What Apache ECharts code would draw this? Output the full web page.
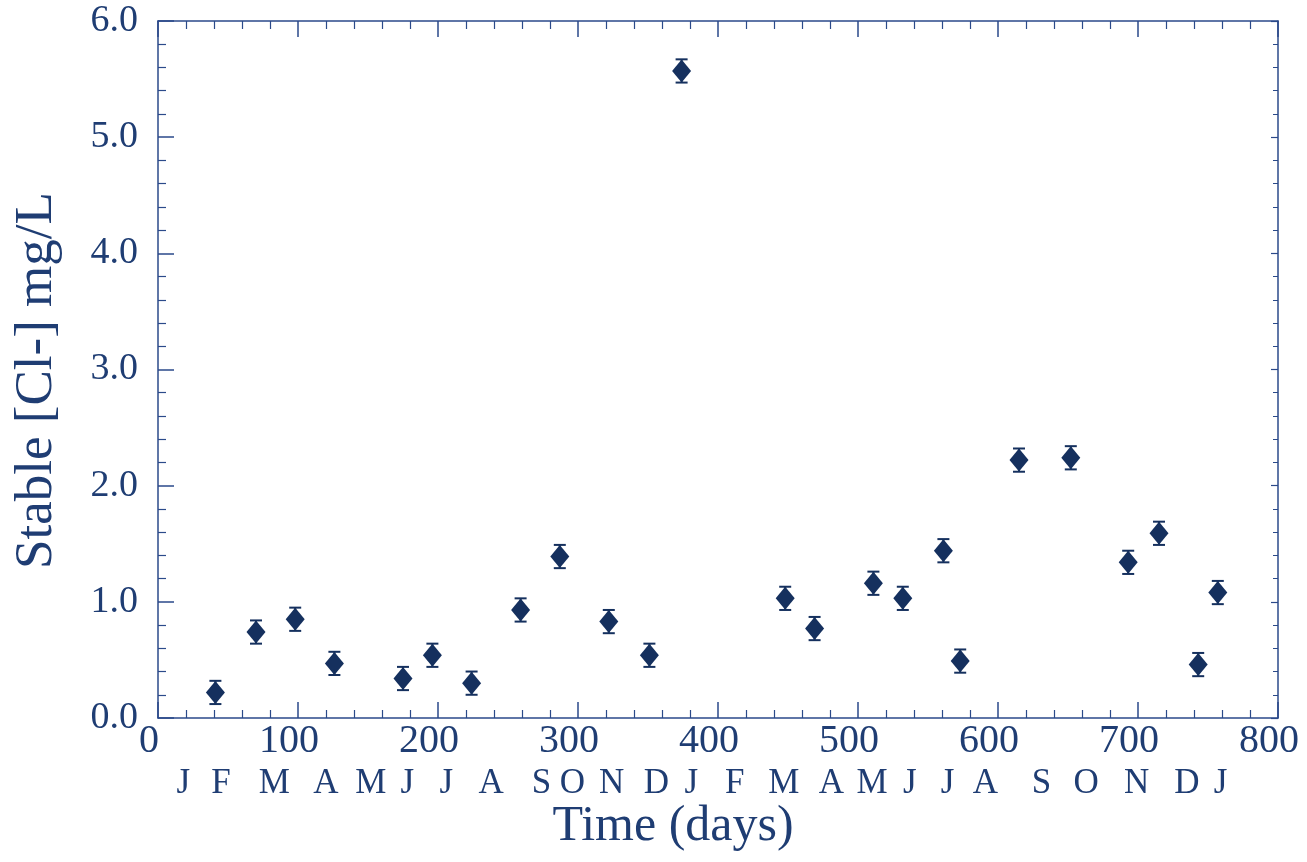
<!DOCTYPE html>
<html>
<head>
<meta charset="utf-8">
<script src="https://cdn.jsdelivr.net/npm/echarts@6/dist/echarts.min.js"></script>
<style>
html,body{margin:0;padding:0;background:#fff;}
#chart{width:1307px;height:862px;}
</style>
</head>
<body>
<div id="chart"></div>
<script>
// Data
const days = [41, 70, 98, 126, 175, 196, 224, 259, 287, 322, 351, 374, 448, 469, 511, 532, 561, 573, 615, 652, 693, 715, 743, 757];
const chloride = [0.22, 0.74, 0.85, 0.47, 0.34, 0.54, 0.30, 0.93, 1.39, 0.83, 0.54, 5.57, 1.03, 0.77, 1.16, 1.03, 1.44, 0.49, 2.22, 2.24, 1.34, 1.59, 0.46, 1.08];
const errors = [0.10, 0.10, 0.10, 0.10, 0.10, 0.10, 0.10, 0.10, 0.10, 0.10, 0.10, 0.10, 0.10, 0.10, 0.10, 0.10, 0.10, 0.10, 0.10, 0.10, 0.10, 0.10, 0.10, 0.10];
const monthLabels = ['J','F','M','A','M','J','J','A','S','O','N','D','J','F','M','A','M','J','J','A','S','O','N','D','J'];
const monthDays = [18, 45, 83, 120, 152, 178, 206, 238, 274, 296, 324, 356, 381, 412, 447, 481, 510, 537, 564, 591, 631, 663, 699, 735, 759];
const xTitle = 'Time (days)';
const yTitle = 'Stable [Cl-] mg/L';

const FONT = '"Liberation Serif", "DejaVu Serif", serif';
const TEXT = '#1f3d73';
const AXIS = '#2b4a8a';
const MARK = '#15305e';

const points = days.map((d, i) => [d, chloride[i]]);
const errData = days.map((d, i) => [d, chloride[i], errors[i]]);

const chart = echarts.init(document.getElementById('chart'));
const baseTick = { show: true, inside: true, length: 16, lineStyle: { color: AXIS, width: 1.5 } };
const baseMinor = { show: true, splitNumber: 5, length: 8, lineStyle: { color: AXIS, width: 1.2 } };

chart.setOption({
  animation: false,
  backgroundColor: '#ffffff',
  grid: { left: 158, right: 29, top: 21, bottom: 144, containLabel: false },
  xAxis: [
    {
      type: 'value', min: 0, max: 800, interval: 100, position: 'bottom',
      axisLine: { show: true, onZero: false, lineStyle: { color: AXIS, width: 1.5 } },
      axisTick: baseTick, minorTick: baseMinor,
      splitLine: { show: false },
      axisLabel: { show: true, fontFamily: FONT, fontSize: 40, color: TEXT, margin: 3, padding: [0, 18, 0, 0] },
      name: xTitle, nameLocation: 'middle', nameGap: 84,
      nameTextStyle: { fontFamily: FONT, fontSize: 50, color: TEXT, padding: [0, 90, 0, 0] }
    },
    {
      type: 'value', min: 0, max: 800, position: 'bottom', offset: 46,
      axisLine: { show: false }, axisTick: { show: false }, splitLine: { show: false },
      axisLabel: {
        show: true, customValues: monthDays, fontFamily: FONT, fontSize: 35, color: TEXT, margin: 2,
        formatter: function (v) { const k = monthDays.indexOf(v); return k >= 0 ? monthLabels[k] : ''; }
      }
    },
    {
      type: 'value', min: 0, max: 800, interval: 100, position: 'top',
      axisLine: { show: true, onZero: false, lineStyle: { color: AXIS, width: 1.5 } },
      axisTick: baseTick, minorTick: baseMinor,
      splitLine: { show: false }, axisLabel: { show: false }
    }
  ],
  yAxis: [
    {
      type: 'value', min: 0, max: 6, interval: 1, position: 'left',
      axisLine: { show: true, onZero: false, lineStyle: { color: AXIS, width: 1.5 } },
      axisTick: baseTick, minorTick: baseMinor,
      splitLine: { show: false },
      axisLabel: { show: true, fontFamily: FONT, fontSize: 38, color: TEXT, margin: 20, formatter: v => v.toFixed(1) },
      name: yTitle, nameLocation: 'middle', nameGap: 94,
      nameTextStyle: { fontFamily: FONT, fontSize: 53, color: TEXT, padding: [0, 22, 0, 0] }
    },
    {
      type: 'value', min: 0, max: 6, interval: 1, position: 'right',
      axisLine: { show: true, onZero: false, lineStyle: { color: AXIS, width: 1.5 } },
      axisTick: { show: true, inside: true, length: 7, lineStyle: { color: AXIS, width: 1.2 } },
      minorTick: { show: true, splitNumber: 5, length: 5, lineStyle: { color: AXIS, width: 1 } },
      splitLine: { show: false }, axisLabel: { show: false }
    }
  ],
  series: [
    {
      type: 'custom', xAxisIndex: 0, yAxisIndex: 0, data: errData, z: 2,
      renderItem: function (params, api) {
        const x = api.value(0), y = api.value(1), e = api.value(2);
        const top = api.coord([x, y + e]);
        const bot = api.coord([x, y - e]);
        const hw = 6;
        const style = { stroke: MARK, lineWidth: 2 };
        return {
          type: 'group',
          children: [
            { type: 'line', shape: { x1: top[0], y1: top[1], x2: bot[0], y2: bot[1] }, style: style },
            { type: 'line', shape: { x1: top[0] - hw, y1: top[1], x2: top[0] + hw, y2: top[1] }, style: style },
            { type: 'line', shape: { x1: bot[0] - hw, y1: bot[1], x2: bot[0] + hw, y2: bot[1] }, style: style }
          ]
        };
      }
    },
    {
      type: 'scatter', xAxisIndex: 0, yAxisIndex: 0, data: points, z: 3,
      symbol: 'diamond', symbolSize: [19, 23],
      itemStyle: { color: MARK, opacity: 1 }
    }
  ]
});
</script>
</body>
</html>
